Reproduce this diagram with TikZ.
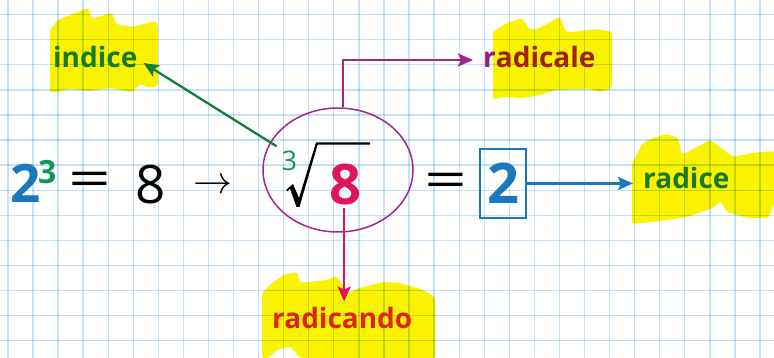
\documentclass[tikz,border=0pt]{standalone}
\usepackage{fontspec}
\setmainfont{Open Sans}
\usetikzlibrary{shapes.geometric,arrows.meta}
\definecolor{gridc}{RGB}{196,226,247}
\definecolor{yel}{RGB}{250,242,0}
\definecolor{bluec}{RGB}{28,120,190}
\definecolor{supgreen}{RGB}{20,150,85}
\definecolor{labgreen}{RGB}{22,122,32}
\definecolor{arrgreen}{RGB}{20,125,60}
\definecolor{magc}{RGB}{160,40,140}
\definecolor{purp}{RGB}{150,30,120}
\definecolor{darkred}{RGB}{160,32,20}
\definecolor{crim}{RGB}{225,20,90}
\definecolor{redl}{RGB}{220,35,28}
\begin{document}
\begin{tikzpicture}[x=1pt,y=-1pt,
  gridline/.style={draw=gridc,line width=1.3},
  yblob/.style={fill=yel,draw=none,rounded corners=2},
  lbl/.style={inner sep=0,anchor=base west,font=\fontsize{28}{30}\selectfont\bfseries},
  txt/.style={inner sep=0,anchor=base west},
  eqsign/.style={inner sep=0,font=\fontsize{50}{50}\selectfont},
  arr/.style={line width=2.3,-{Stealth[length=15,width=13,inset=3]}}]
\useasboundingbox (0,0) rectangle (774,358);
\fill[white] (0,0) rectangle (774,358);
% highlights
\fill[yblob] (50,92) -- (50,30) -- (58,20) -- (88,8) -- (92,19) -- (112,13) -- (116,24) -- (132,27) -- (156,21) -- (158,26) -- (158,86) -- (150,88) -- (140,84) -- (132,92) -- (110,88) -- (90,91) -- (70,89) -- (55,92) -- cycle;
\fill[yblob] (493,99) -- (493,32) -- (505,24) -- (522,18) -- (530,30) -- (537,29) -- (560,17) -- (566,32) -- (572,32) -- (597,29) -- (612,32) -- (612,88) -- (600,92) -- (590,89) -- (555,90) -- (540,95) -- (523,98) -- (505,97) -- cycle;
\fill[yblob] (632,224) -- (632,163) -- (643,143) -- (653,138) -- (667,134) -- (678,138) -- (682,155) -- (697,147) -- (710,140) -- (717,145) -- (733,157) -- (753,153) -- (774,151) -- (774,205) -- (768,218) -- (747,218) -- (727,212) -- (720,201) -- (713,208) -- (687,217) -- (660,221) -- cycle;
\fill[yblob] (262,358) -- (262,293) -- (270,285) -- (283,275) -- (297,272) -- (300,283) -- (327,280) -- (337,276) -- (347,293) -- (363,287) -- (383,282) -- (400,283) -- (423,290) -- (435,297) -- (435,358) -- (300,358) -- (290,346) -- (277,350) -- (268,358) -- cycle;
% grid
\begin{scope}[blend mode=multiply]
\foreach \k in {0,...,30} {\draw[gridline] ({7.9+25.07*\k},0) -- ++(0,358);}
\foreach \k in {0,...,13} {\draw[gridline] (0,{14.7+25.07*\k}) -- ++(774,0);}
\end{scope}
% equation
\node[txt,text=bluec,font=\fontsize{53}{53}\selectfont\bfseries] (two) at (10,203) {2};
\node[txt,text=supgreen,font=\fontsize{32}{32}\selectfont\bfseries] (cube) at (38,184) {3};
\node[eqsign] (eqa) at (89.5,184) {\scalebox{1.5}[1]{=}};
\node[txt,font=\fontsize{53}{53}\selectfont] (eight) at (135.5,204) {8};
\node[inner sep=0] (to) at (212.5,186) {\scalebox{3.9}{$\rightarrow$}};
\node[draw=magc,line width=1.5,ellipse,minimum width=150,minimum height=124,inner sep=0] (ell) at (338,170) {};
\node[txt,text=supgreen,font=\fontsize{27}{27}\selectfont] (idx) at (281.5,171) {3};
\fill (286,190) -- (293,184) -- (299,198) -- (316,142.5) -- (370,142.5) -- (370,144.7) -- (317.6,144.7) -- (299.5,207) -- (296.5,207) -- (290,188.5) -- (287.5,191.5) -- cycle;
\node[txt,text=crim,font=\fontsize{56}{56}\selectfont\bfseries] (rad) at (329,205) {8};
\node[eqsign] (eqb) at (445.5,185.5) {\scalebox{1.5}[1]{=}};
\node[draw=bluec,line width=1.4,minimum width=46,minimum height=69,inner sep=0,text=bluec,font=\fontsize{56}{56}\selectfont\bfseries] (box) at (503,183.5) {2};
% labels
\node[lbl,text=labgreen] (indice) at (53,68) {indice};
\node[lbl,text=darkred] (radicale) at (483,68) {{\color{purp}r}adicale};
\node[lbl,text=labgreen] (radice) at (643,189) {radice};
\node[lbl,text=redl] (radicando) at (272,328) {radicando};
% connectors
\draw[arr,arrgreen] ([shift={(-5,-5)}]idx.north west) -- ([shift={(6,-5)}]indice.base east);
\draw[arr,magc] ([xshift=5pt]ell.north) |- ([shift={(-10,-8)}]radicale.base west);
\draw[arr,bluec] (box.east) -- ([xshift=-10pt]box.east -| radice.west);
\draw[arr,crim] ([shift={(-1,2)}]rad.south) -- ([shift={(-1,-5)}]rad.south |- radicando.north);
\end{tikzpicture}
\end{document}
